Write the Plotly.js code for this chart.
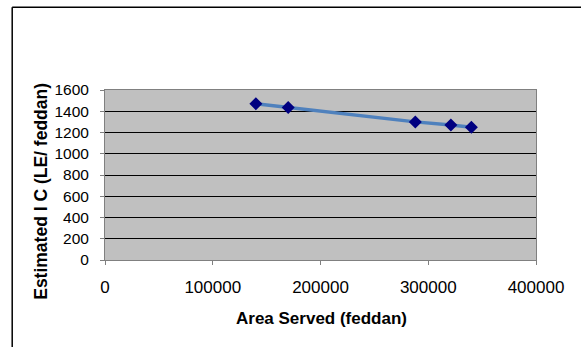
<!DOCTYPE html>
<html>
<head>
<meta charset="utf-8">
<script src="https://cdn.plot.ly/plotly-3.0.1.min.js"></script>
<style>
  html, body { margin: 0; padding: 0; background: #ffffff; }
  #chart { width: 581px; height: 347px; }
</style>
</head>
<body>
<div id="chart"></div>
<script>
// Estimated irrigation cost per feddan against the area served
const areaServed = [140000, 170000, 288000, 321000, 340000];
const estimatedIC = [1470, 1435, 1300, 1270, 1250];
const xTickVals = [0, 100000, 200000, 300000, 400000];
const yTickVals = [0, 200, 400, 600, 800, 1000, 1200, 1400, 1600];

const trace = {
  x: areaServed,
  y: estimatedIC,
  type: 'scatter',
  mode: 'lines+markers',
  line: { color: '#4f81bd', width: 3.5 },
  marker: { symbol: 'diamond', size: 10, color: '#000080' },
  hoverinfo: 'x+y'
};

const font = { family: 'Liberation Sans, Arial, sans-serif', color: '#000000' };

const layout = {
  width: 581,
  height: 347,
  margin: { l: 104.5, r: 44.5, t: 90, b: 86.5 },
  paper_bgcolor: '#ffffff',
  plot_bgcolor: '#c0c0c0',
  showlegend: false,
  font: font,
  xaxis: {
    range: [0, 400000],
    tickvals: xTickVals,
    ticktext: xTickVals.map(String),
    ticks: 'outside',
    ticklen: 4,
    tickcolor: '#808080',
    showline: true,
    linecolor: '#808080',
    linewidth: 1,
    mirror: true,
    showgrid: false,
    zeroline: false,
    ticklabelstandoff: 8,
    tickfont: { family: font.family, size: 17, color: '#000000' }
  },
  yaxis: {
    range: [0, 1600],
    tickvals: yTickVals,
    ticktext: yTickVals.map(String),
    ticks: 'outside',
    ticklen: 4,
    tickcolor: '#808080',
    showline: true,
    linecolor: '#808080',
    linewidth: 1,
    mirror: true,
    showgrid: true,
    gridcolor: '#000000',
    gridwidth: 1,
    zeroline: false,
    ticklabelstandoff: 8,
    tickfont: { family: font.family, size: 15.5, color: '#000000' }
  },
  annotations: [
    {
      text: '<b>Area Served (feddan)</b>',
      xref: 'paper', yref: 'paper',
      x: 0.503, y: -0.345,
      xanchor: 'center', yanchor: 'middle',
      showarrow: false,
      font: { family: font.family, size: 17, color: '#000000' }
    },
    {
      text: '<b>Estimated I C (LE/ feddan)</b>',
      xref: 'paper', yref: 'paper',
      x: -0.1470, y: 0.405,
      xanchor: 'center', yanchor: 'middle',
      textangle: -90,
      showarrow: false,
      font: { family: font.family, size: 17.5, color: '#000000' }
    }
  ],
  shapes: [
    // chart area frame: left and top edges
    {
      type: 'line', xref: 'paper', yref: 'paper',
      x0: -0.2153, x1: -0.2153, y0: -0.6, y1: 1.4868,
      line: { color: '#000000', width: 1.5 }
    },
    {
      type: 'line', xref: 'paper', yref: 'paper',
      x0: -0.2153, x1: 1.2, y0: 1.4868, y1: 1.4868,
      line: { color: '#000000', width: 1.5 }
    }
  ]
};

Plotly.newPlot('chart', [trace], layout, { displayModeBar: false, staticPlot: true });
</script>
</body>
</html>
